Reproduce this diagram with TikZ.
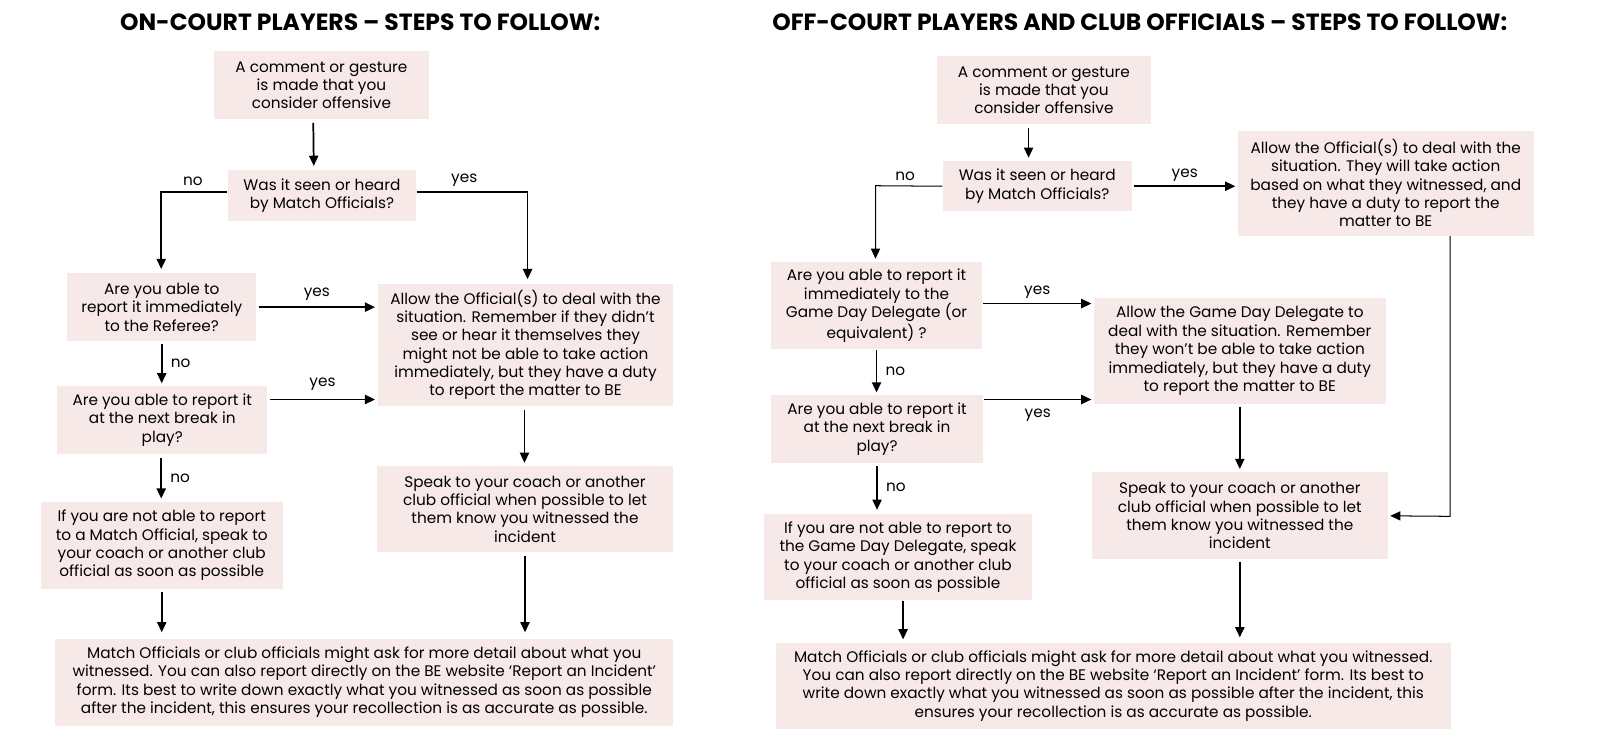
\documentclass[tikz,border=0pt]{standalone}
\usepackage{fontspec}
\setmainfont{Poppins}
\usepackage{tikz}
\usetikzlibrary{calc,arrows.meta,positioning}

\definecolor{boxpink}{HTML}{F8E9E9}

\tikzset{
    stepbox/.style={fill=boxpink,align=center,inner sep=2pt,font=\fontsize{7.5}{9}\selectfont},
    arr/.style={line width=0.85pt,-{Triangle[length=5pt,width=4.5pt]}},
    thinarr/.style={line width=0.5pt,-{Triangle[length=5pt,width=4.5pt]}},
    lbl/.style={inner sep=1pt,font=\fontsize{7.5}{9}\selectfont},
    heading/.style={font=\fontsize{11.5}{13}\selectfont\bfseries}
}

\begin{document}
\begin{tikzpicture}[x=0.5pt,y=-0.5pt]
    \useasboundingbox[fill=white] (0,0) rectangle (1568,734);

    % left: on-court players
    \node[heading] (ltitle) at (353,22) {ON-COURT PLAYERS – STEPS TO FOLLOW:};

    \node[stepbox,minimum width=105pt,minimum height=33.5pt] (a1) at (315,83.5) {A comment or gesture\\is made that you\\consider offensive};
    \node[stepbox,minimum width=92.5pt,minimum height=25pt] (a2) at (315.5,192) {Was it seen or heard\\by Match Officials?};
    \node[stepbox,minimum width=92.5pt,minimum height=33pt] (a3) at (158.5,301) {Are you able to\\report it immediately\\to the Referee?};
    \node[stepbox,minimum width=145pt,minimum height=60pt] (a4) at (515,338) {Allow the Official(s) to deal with the\\situation. Remember if they didn’t\\see or hear it themselves they\\might not be able to take action\\immediately, but they have a duty\\to report the matter to BE};
    \node[stepbox,minimum width=103pt,minimum height=33.5pt] (a5) at (159,411.5) {Are you able to report it\\at the next break in\\play?};
    \node[stepbox,minimum width=118.5pt,minimum height=42.5pt] (a6) at (158.5,534.5) {If you are not able to report\\to a Match Official, speak to\\your coach or another club\\official as soon as possible};
    \node[stepbox,minimum width=145.5pt,minimum height=42pt] (a7) at (514.5,499) {Speak to your coach or another\\club official when possible to let\\them know you witnessed the\\incident};
    \node[stepbox,minimum width=303pt,minimum height=42.5pt] (a8) at (357,668.5) {Match Officials or club officials might ask for more detail about what you\\witnessed. You can also report directly on the BE website ‘Report an Incident’\\form. Its best to write down exactly what you witnessed as soon as possible\\after the incident, this ensures your recollection is as accurate as possible.};

    \coordinate (lno) at (158,188);
    \coordinate (lyes) at (517,188);

    \draw[arr] ($(a1.south)+(-8,3)$) -- ($(a2.north)+(-8,-4)$);
    \draw[arr] ($(a2.west)+(0,-4)$) -- (lno) -- ($(a3.north -| lno)+(0,-4)$);
    \draw[arr] ($(a2.east)+(0,-4)$) -- (lyes) -- ($(a4.north -| lyes)+(0,-4)$);
    \node[lbl] at (189,178) {no};
    \node[lbl] at (455,177) {yes};
    \draw[arr] ($(a3.east)+(2,0)$) -- ($(a3.east -| a4.west)+(-2,0)$) node[lbl,midway,above=2pt] {yes};
    \draw[arr] ($(a3.south)+(0,3)$) -- ($(a5.north -| a3.south)+(0,-2)$) node[lbl,midway,right=3pt] {no};
    \draw[arr] ($(a5.east)+(2,-20)$) -- ($(a5.east -| a4.west)+(-2,-20)$) node[lbl,midway,above=3pt] {yes};
    \draw[arr] ($(a5.south)+(-1,3)$) -- ($(a6.north -| a5.south)+(-1,-3)$) node[lbl,midway,right=3pt] {no};
    \draw[arr] ($(a4.south)+(-1,3)$) -- ($(a7.north -| a4.south)+(-1,-3)$);
    \draw[arr] ($(a6.south)+(0,3)$) -- ($(a8.north -| a6.south)+(0,-6)$);
    \draw[arr] ($(a7.south)+(0,3)$) -- ($(a8.north -| a7.south)+(0,-6)$);

    % right: off-court players and club officials
    \node[heading] (rtitle) at (1117,22) {OFF-COURT PLAYERS AND CLUB OFFICIALS – STEPS TO FOLLOW:};

    \node[stepbox,minimum width=105pt,minimum height=33.5pt] (b1) at (1023,88.5) {A comment or gesture\\is made that you\\consider offensive};
    \node[stepbox,minimum width=92.5pt,minimum height=24.5pt] (b2) at (1016.5,182.5) {Was it seen or heard\\by Match Officials?};
    \node[stepbox,minimum width=145pt,minimum height=51.5pt] (b3) at (1358,179.5) {Allow the Official(s) to deal with the\\situation. They will take action\\based on what they witnessed, and\\they have a duty to report the\\matter to BE};
    \node[stepbox,minimum width=103pt,minimum height=42.5pt] (b4) at (859,299.5) {Are you able to report it\\immediately to the\\Game Day Delegate (or\\equivalent) ?};
    \node[stepbox,minimum width=143pt,minimum height=52pt] (b5) at (1215,344) {Allow the Game Day Delegate to\\deal with the situation. Remember\\they won’t be able to take action\\immediately, but they have a duty\\to report the matter to BE};
    \node[stepbox,minimum width=103.5pt,minimum height=33.5pt] (b6) at (859.5,420.5) {Are you able to report it\\at the next break in\\play?};
    \node[stepbox,minimum width=145pt,minimum height=42.5pt] (b7) at (1215,505.5) {Speak to your coach or another\\club official when possible to let\\them know you witnessed the\\incident};
    \node[stepbox,minimum width=131pt,minimum height=42pt] (b8) at (880,546) {If you are not able to report to\\the Game Day Delegate, speak\\to your coach or another club\\official as soon as possible};
    \node[stepbox,minimum width=331pt,minimum height=42pt] (b9) at (1091,672) {Match Officials or club officials might ask for more detail about what you witnessed.\\You can also report directly on the BE website ‘Report an Incident’ form. Its best to\\write down exactly what you witnessed as soon as possible after the incident, this\\ensures your recollection is as accurate as possible.};

    \coordinate (rno) at (858,182);
    \coordinate (rback) at (1421,506);

    \draw[arr] ($(b1.south)+(-15,3)$) -- ($(b2.north)+(-8.5,-3)$);
    \draw[thinarr] (b2.west) -- (rno) -- ($(b4.north -| rno)+(0,-3)$);
    \node[lbl] at (887,173) {no};
    \draw[arr] ($(b2.east)+(2,0)$) -- ($(b2.east -| b3.west)+(-2,0)$) node[lbl,midway,above=1pt] {yes};
    \draw[thinarr] (b3.south -| rback) -- (rback) -- ($(b7.east)+(2,0)$);
    \draw[arr] ($(b4.east)+(1,-2)$) -- ($(b4.east -| b5.west)+(-2,-2)$) node[lbl,midway,above=1pt] {yes};
    \draw[arr] ($(b4.south)+(0,1)$) -- ($(b6.north -| b4.south)+(0,-2)$) node[lbl,midway,right=3pt] {no};
    \draw[arr] ($(b6.east)+(1,-29)$) -- ($(b6.east -| b5.west)+(-2,-29)$) node[lbl,midway,below=3pt] {yes};
    \draw[arr] ($(b6.south)+(0,2)$) -- ($(b8.north -| b6.south)+(0,-4)$) node[lbl,midway,right=3pt] {no};
    \draw[arr] ($(b5.south)+(0,2)$) -- ($(b7.north)+(0,-3)$);
    \draw[arr] ($(b8.south)+(5,1)$) -- ($(b9.north -| b8.south)+(5,-3)$);
    \draw[arr] ($(b7.south)+(0,2)$) -- ($(b9.north -| b7.south)+(0,-5)$);
\end{tikzpicture}
\end{document}
